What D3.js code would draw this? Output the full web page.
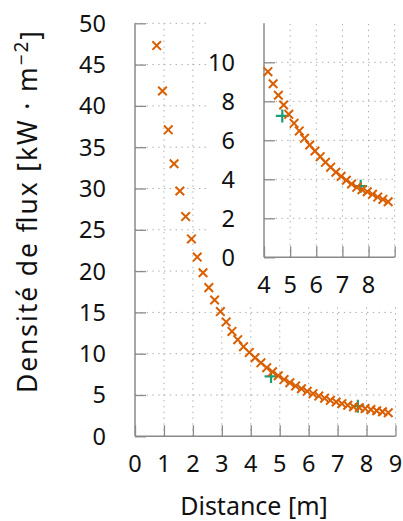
<!DOCTYPE html>
<html>
<head>
<meta charset="utf-8">
<script src="https://cdn.jsdelivr.net/npm/d3@7"></script>
<style>
  body { margin: 0; background: white; }
  text { font-family: 'Noto Sans', sans-serif; fill: #111; }
</style>
</head>
<body>
<script>
// mesures (orange) et valeurs de contrôle (vert)
let distance = [0.75, 0.95, 1.15, 1.35, 1.55, 1.75, 1.95, 2.15, 2.35, 2.55, 2.75, 2.95, 3.15, 3.35,
  3.55, 3.75, 3.95, 4.15, 4.35, 4.55, 4.75, 4.95, 5.15, 5.35, 5.55, 5.75, 5.95, 6.15, 6.35,
  6.55, 6.75, 6.95, 7.15, 7.35, 7.55, 7.75, 7.95, 8.15, 8.35, 8.55, 8.75];
let flux = [47.3, 41.8, 37.1, 33.0, 29.7, 26.6, 23.9, 21.7, 19.8, 18.0, 16.5, 15.1, 13.85, 12.7,
  11.7, 10.85, 10.15, 9.52, 8.9, 8.31, 7.81, 7.33, 6.87, 6.48, 6.1, 5.76, 5.45, 5.16, 4.87,
  4.62, 4.36, 4.15, 3.95, 3.76, 3.59, 3.47, 3.36, 3.23, 3.09, 2.97, 2.85];
let refDistance = [4.7, 7.7];
let refFlux = [7.25, 3.65];

let xTicks = [0, 1, 2, 3, 4, 5, 6, 7, 8, 9];
let yTicks = [0, 5, 10, 15, 20, 25, 30, 35, 40, 45, 50];
let xTicksInset = [4, 5, 6, 7, 8, 9];
let xLabelsInset = [4, 5, 6, 7, 8];
let yTicksInset = [0, 2, 4, 6, 8, 10];

let orange = '#d95f02';
let green = '#1b9e77';

let dim = { width: 403, height: 521 };
let svg = d3.select('body').append('svg').attr('width', dim.width).attr('height', dim.height);

let points = distance.map((d, i) => ({ x: d, y: flux[i] }));
let refPoints = refDistance.map((d, i) => ({ x: d, y: refFlux[i] }));

function drawFrame(g, sx, sy, xt, yt, xl, yl) {
  let [x0, x1] = sx.range();
  let [y0, y1] = sy.range();

  // grille pointillée
  g.selectAll('.gx').data(xt.filter((t) => t !== sx.domain()[0])).enter().append('line')
    .attr('x1', (d) => sx(d)).attr('x2', (d) => sx(d)).attr('y1', y0).attr('y2', y1)
    .attr('stroke', '#aaa').attr('stroke-width', 1).attr('stroke-dasharray', '1.4,4.4');
  g.selectAll('.gy').data(yt.filter((t) => t !== 0)).enter().append('line')
    .attr('y1', (d) => sy(d)).attr('y2', (d) => sy(d)).attr('x1', x0).attr('x2', x1)
    .attr('stroke', '#aaa').attr('stroke-width', 1).attr('stroke-dasharray', '1.4,4.4');

  // axes (graduations vers l'intérieur)
  let axisX = d3.axisBottom(sx).tickValues(xt).tickSize(-11).tickFormat('');
  let axisY = d3.axisLeft(sy).tickValues(yt).tickSize(-11).tickFormat('');
  let gx = g.append('g').attr('transform', `translate(0, ${y0})`).call(axisX);
  let gy = g.append('g').attr('transform', `translate(${x0}, 0)`).call(axisY);
  [gx, gy].forEach((a) => {
    a.select('.domain').attr('stroke', '#8a8a8a').attr('stroke-width', 1.5);
    a.selectAll('.tick line').attr('stroke', '#8a8a8a').attr('stroke-width', 1.3);
  });
  gx.select('.domain').attr('d', `M${x0},0H${x1}`);
  gy.select('.domain').attr('d', `M0,${y0}V${y1}`);

  // étiquettes
  g.selectAll('.lx').data(xl).enter().append('text')
    .attr('x', (d) => sx(d)).attr('y', y0 + 36).attr('text-anchor', 'middle')
    .style('font-size', '23.5px').text((d) => d);
  g.selectAll('.ly').data(yl).enter().append('text')
    .attr('x', x0 - 29).attr('y', (d) => sy(d)).attr('text-anchor', 'end')
    .attr('dy', '0.36em').style('font-size', '23.5px').text((d) => d);
}

function drawPoints(g, sx, sy) {
  let inside = (d) => d.x >= sx.domain()[0] && d.y <= sy.domain()[1];
  g.selectAll('.ref').data(refPoints.filter(inside)).enter().append('path')
    .attr('d', 'M-6.5,0H6.5M0,-6.5V6.5')
    .attr('transform', (d) => `translate(${sx(d.x)}, ${sy(d.y)})`)
    .attr('stroke', green).attr('stroke-width', 2.2).attr('fill', 'none');
  g.selectAll('.pt').data(points.filter(inside)).enter().append('path')
    .attr('d', 'M-4.3,-4.3L4.3,4.3M-4.3,4.3L4.3,-4.3')
    .attr('transform', (d) => `translate(${sx(d.x)}, ${sy(d.y)})`)
    .attr('stroke', orange).attr('stroke-width', 2).attr('fill', 'none');
}

// graphique principal
let scaleX = d3.scaleLinear().domain([0, 9]).range([135, 395.5]);
let scaleY = d3.scaleLinear().domain([0, 50]).range([436.3, 23.3]);
drawFrame(svg.append('g'), scaleX, scaleY, xTicks, yTicks, xTicks, yTicks);

// fond blanc de l'encart (cache la grille, pas les points)
svg.append('rect').attr('x', 207).attr('y', 0).attr('width', 196).attr('height', 303).attr('fill', 'white');
drawPoints(svg.append('g'), scaleX, scaleY);

// encart (zoom)
let inset = svg.append('g');
let insetX = d3.scaleLinear().domain([4, 9]).range([264, 394.7]);
let insetY = d3.scaleLinear().domain([0, 12]).range([257.3, 23.3]);
drawFrame(inset, insetX, insetY, xTicksInset, yTicksInset, xLabelsInset, yTicksInset);
drawPoints(inset, insetX, insetY);

// titres des axes
svg.append('text').attr('x', 254).attr('y', 515).attr('text-anchor', 'middle')
  .style('font-size', '25px').text('Distance [m]');

let yTitle = svg.append('text').attr('transform', 'translate(37, 212) rotate(-90)')
  .attr('text-anchor', 'middle').style('font-size', '26.5px')
  .attr('textLength', 362).attr('lengthAdjust', 'spacing');
yTitle.append('tspan').text('Densité de flux [kW · m');
yTitle.append('tspan').attr('dy', '-0.45em').style('font-size', '19px').text('−2');
yTitle.append('tspan').attr('dy', '0.45em').text(']');
</script>
</body>
</html>
